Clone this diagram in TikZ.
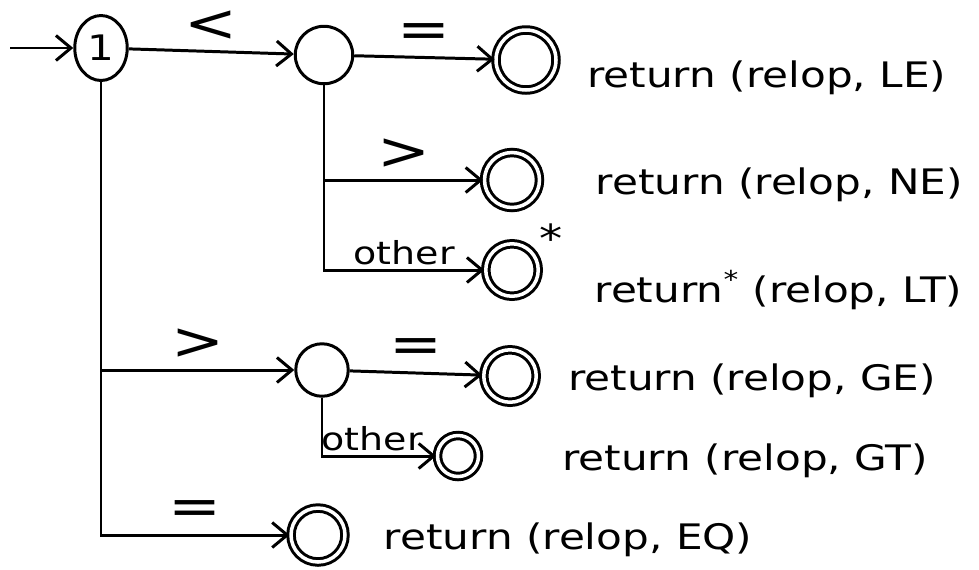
\documentclass[tikz,border=0pt]{standalone}
\usepackage{fontspec}
\newfontfamily\hand[FakeStretch=1.2]{DejaVu Sans}
\usetikzlibrary{arrows.meta,positioning,shapes.geometric}

\begin{document}
\begin{tikzpicture}[
  x=0.02cm, y=-0.02cm,
  line width=1.7pt,
  every node/.style={font=\hand\fontsize{20}{24}\selectfont},
  state/.style={circle, draw, minimum size=1.15cm, inner sep=0pt},
  accept/.style={circle, draw, double, double distance=2pt, inner sep=0pt},
  move/.style={-{Straight Barb[length=3mm,width=5mm]}},
  sym/.style={above, inner sep=5pt, font=\hand\fontsize{30}{30}\selectfont},
  other/.style={above, pos=0.75, inner sep=2pt, font=\hand\fontsize{18}{20}\selectfont}
]
\useasboundingbox (0,0) rectangle (979,569);

\coordinate (start) at (10,48);
\node[state, ellipse, minimum width=1.05cm, minimum height=1.3cm] (s1) at (101,48) {1};
\node[state] (s2) at (324,55) {};
\node[state, minimum size=1.05cm] (s4) at (322,370) {};

\node[accept, minimum size=1.2cm] (LE) at (526,60) {};
\node[accept, minimum size=1.1cm] (NE) at (512,180) {};
\node[accept, minimum size=1.05cm, label={[font=\hand\fontsize{22}{22}\selectfont, inner sep=1pt]30:*}] (LT) at (512,270) {};
\node[accept, minimum size=1.05cm] (GE) at (510,376) {};
\node[accept, minimum size=0.82cm] (GT) at (458,456) {};
\node[accept, minimum size=1.08cm] (EQ) at (318,535) {};

\draw[move] (start) -- (s1);
\draw[move] (s1) -- node[sym] {<} (s2);
\draw[move] (s2) -- node[sym] {=} (LE);
\draw[move] (s2.south) |- node[sym, pos=0.75] {>} (NE);
\draw[move] (s2.south) |- node[other] {other} (LT);
\draw[move] (s1.south) |- node[sym, pos=0.75] {>} (s4);
\draw[move] (s4) -- node[sym] {=} (GE);
\draw[move] (s4.south) |- node[other, pos=0.72] {other} (GT);
\draw[move] (s1.south) |- node[sym, pos=0.75] {=} (EQ);

\node[right=0.45cm of LE, yshift=-0.35cm] (tLE) {return (relop, LE)};
\node[right=0.95cm of NE, yshift=-0.1cm] (tNE) {return (relop, NE)};
\node[right=0.95cm of LT, yshift=-0.4cm] (tLT) {return\textsuperscript{*} (relop, LT)};
\node[right=0.46cm of GE, yshift=-0.1cm] (tGE) {return (relop, GE)};
\node[right=1.5cm of GT, yshift=-0.1cm] (tGT) {return (relop, GT)};
\node[right=0.6cm of EQ, yshift=-0.1cm] (tEQ) {return (relop, EQ)};
\end{tikzpicture}
\end{document}
